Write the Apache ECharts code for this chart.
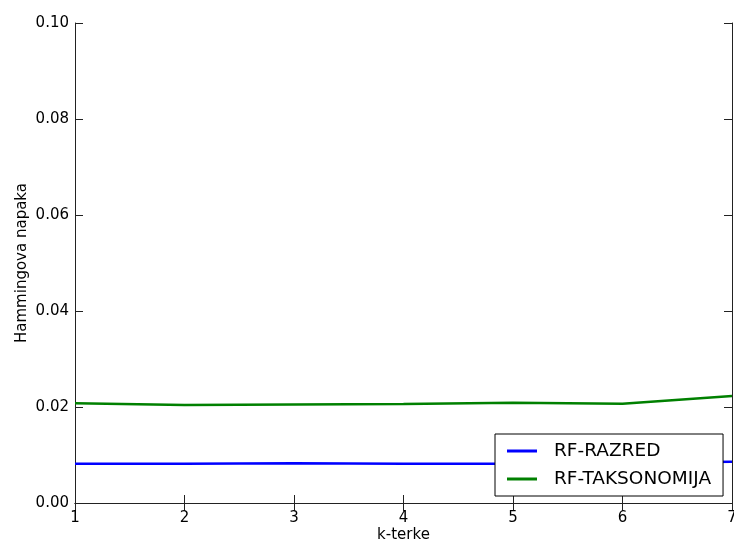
<!DOCTYPE html>
<html>
<head>
<meta charset="utf-8">
<script src="https://cdn.jsdelivr.net/npm/echarts@6/dist/echarts.min.js"></script>
<style>html,body{margin:0;padding:0;background:#fff}#c{width:734px;height:544px}</style>
</head>
<body>
<div id="c"></div>
<script>
var kValues = [1, 2, 3, 4, 5, 6, 7];
var rfRazred = [0.0082, 0.0082, 0.0083, 0.0082, 0.0082, 0.0084, 0.0086];
var rfTaksonomija = [0.0208, 0.0204, 0.0205, 0.0206, 0.0209, 0.0207, 0.0223];
var seriesNames = ['RF-RAZRED', 'RF-TAKSONOMIJA'];
var yTickFormat = function (v) { return v.toFixed(2); };

var font = 'DejaVu Sans';
function pairs(xs, ys) { return xs.map(function (x, i) { return [x, ys[i]]; }); }

var chart = echarts.init(document.getElementById('c'), null, {renderer: 'canvas'});
var axisLine = {show: true, lineStyle: {color: '#222', width: 1}};
var tick = {show: true, inside: true, length: 8, lineStyle: {color: '#222', width: 1}};
chart.setOption({
  animation: false,
  backgroundColor: '#fff',
  grid: {left: 75, top: 23, right: 2, bottom: 41, containLabel: false, outerBoundsMode: 'none'},
  legend: {
    data: seriesNames,
    orient: 'vertical',
    left: 495, top: 434,
    padding: [6, 12, 6, 12],
    itemGap: 6,
    itemWidth: 30, itemHeight: 3,
    icon: 'rect',
    borderColor: '#000', borderWidth: 1,
    backgroundColor: '#fff',
    textStyle: {fontFamily: font, fontSize: 18.5, color: '#000', lineHeight: 22, padding: [0, 0, 0, 12]}
  },
  xAxis: [{
    type: 'value', min: 1, max: 7, interval: 1, position: 'bottom',
    name: 'k-terke', nameLocation: 'middle', nameGap: 25, nameMoveOverlap: false,
    nameTextStyle: {fontFamily: font, fontSize: 15, color: '#000'},
    axisLine: axisLine, axisTick: tick, splitLine: {show: false},
    axisLabel: {fontFamily: font, fontSize: 15, color: '#000', margin: 8}
  }, {
    type: 'value', min: 1, max: 7, interval: 1, position: 'top',
    axisLine: axisLine, axisTick: tick, splitLine: {show: false},
    axisLabel: {show: false}
  }],
  yAxis: [{
    type: 'value', min: 0, max: 0.1, interval: 0.02, position: 'left',
    name: 'Hammingova napaka', nameLocation: 'middle', nameGap: 45.5, nameMoveOverlap: false,
    nameTextStyle: {fontFamily: font, fontSize: 15, color: '#000'},
    axisLine: axisLine, axisTick: tick, splitLine: {show: false},
    axisLabel: {fontFamily: font, fontSize: 15, color: '#000', margin: 6, formatter: yTickFormat}
  }, {
    type: 'value', min: 0, max: 0.1, interval: 0.02, position: 'right',
    axisLine: axisLine, axisTick: tick, splitLine: {show: false},
    axisLabel: {show: false}
  }],
  series: [{
    name: seriesNames[0], type: 'line', symbol: 'none', z: 2,
    lineStyle: {color: '#0000ff', width: 2.5}, itemStyle: {color: '#0000ff'},
    data: pairs(kValues, rfRazred)
  }, {
    name: seriesNames[1], type: 'line', symbol: 'none', z: 2,
    lineStyle: {color: '#008000', width: 2.5}, itemStyle: {color: '#008000'},
    data: pairs(kValues, rfTaksonomija)
  }]
});
</script>
</body>
</html>
